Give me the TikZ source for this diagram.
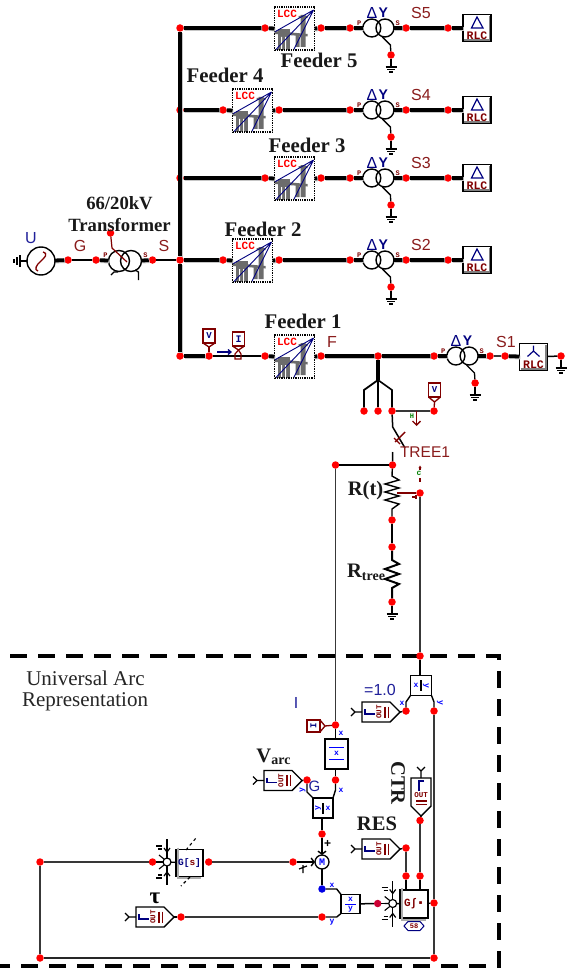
\documentclass[tikz,border=0pt]{standalone}
\usepackage{fontspec}
\setmainfont{Liberation Sans}
\newfontfamily\tnr{Liberation Serif}
\newfontfamily\mon{Liberation Mono}
\usetikzlibrary{arrows.meta,calc}
\definecolor{dred}{HTML}{800000}
\definecolor{lblred}{HTML}{8A1C1C}
\definecolor{navy}{HTML}{000080}
\definecolor{lblblue}{HTML}{20209A}
\definecolor{wgray}{HTML}{383838}
\newcommand\fs[1]{\fontsize{#1}{#1}\selectfont}
\tikzset{
 x=1pt,y=-1pt,
 every node/.style={inner sep=0pt,outer sep=0pt},
 dot/.style={circle,fill=red,minimum size=7.5pt},
 bdot/.style={circle,fill=blue!90!black,minimum size=7.5pt},
 pdot/.style={circle,fill=red!80!blue,minimum size=7.5pt},
 bus/.style={line width=3.8pt,preaction={draw=gray!45,line width=3.8pt,transform canvas={shift={(0.8pt,-1pt)}}}},
 med/.style={line width=2.4pt},
 thin wire/.style={line width=1.5pt},
 gwire/.style={line width=1.6pt,draw=wgray},
 feeder label/.style={font=\tnr\bfseries\fs{20.8},text=black!90},
 big label/.style={font=\tnr\bfseries\fs{20.6},text=black!90},
 name label/.style={font=\fs{16},text=lblred},
 blk/.style={draw,line width=1.4pt,fill=white,rectangle},
 tiny blue/.style={font=\mon\bfseries\fs{8},text=blue},
 tiny red/.style={font=\mon\bfseries\fs{7},text=dred},
}
% LCC block
\newcommand\lcc[3]{%
\begin{scope}[shift={(#2-20,#3-21)}]
 \fill[gray!85!black] (3,22) rectangle (15,43);
 \fill[white] (6.5,30) rectangle (7.5,43) (10.5,30) rectangle (11.5,43);
 \fill[gray!85!black] (0,24) -- (33,27) -- (33,29.5) -- (0,27) -- cycle;
 \fill[gray!85!black] (21,27) rectangle (25,40) (26,8) rectangle (31,40) (24,9) rectangle (33,11);
 \draw[navy,line width=0.9pt] (39,3) -- (0,25) (39,3) -- (1,43) (39,3) -- (19,43);
 \node[draw,densely dotted,line width=1.3pt,minimum width=40pt,minimum height=43pt] (#1) at (20,21.5) {};
 \node[font=\mon\bfseries\fs{11},text=red] at (12.5,7) {LCC};
\end{scope}}
% ground symbol hanging under a dot
\newcommand\gnd[1]{%
 \draw[line width=1.3pt] (#1) -- ++(0,12);
 \draw[line width=1.1pt] ($(#1)+(-5.5,12)$) -- ++(11,0) ($(#1)+(-4,14.5)$) -- ++(8,0) ($(#1)+(-2,17)$) -- ++(4,0);}
% distribution transformer
\newcommand\xfmr[3]{%
 \node[circle,draw,line width=1.4pt,minimum size=18pt] (#1l) at (#2-6.6,#3) {};
 \node[circle,draw,line width=1.4pt,minimum size=18pt] (#1r) at (#2+6.6,#3) {};
 \node[dot] (#1g) at (#2+12.6,#3+27) {};
 \draw[line width=1.3pt] (#2+4,#3+9) -- (#2+12,#3+17) -- (#1g);
 \gnd{#1g}
 \node[font=\fs{16},text=navy] at (#2-6.5,#3-15) {Δ};
 \node[font=\bfseries\fs{14},text=navy] at (#2+5,#3-15) {Y};
 \node[tiny red] at (#2-19.3,#3-5) {P};
 \node[tiny red] at (#2+19.3,#3-5) {S};}
% load block
\newcommand\rlcbox[3]{%
 \node[draw,line width=1.5pt,fill=white,minimum width=28pt,minimum height=27pt] (#1) at (#2,#3) {};
 \draw[gray,line width=1.3pt] ($(#1.south west)+(1.4,-1.4)$) -- ($(#1.south east)+(-1.4,-1.4)$) -- ($(#1.north east)+(-1.4,1.4)$);
 \node[font=\mon\bfseries\fs{11.5},text=dred] at (#2,#3+8) {RLC};}
\newcommand\feederrow[5]{%
 \node[dot] (#1a) at (180,#2) {};
 \node[dot] (#1b) at (#3-29.5,#2) {};
 \node[dot] (#1c) at (#3+26.5,#2) {};
 \node[dot] (#1d) at (350,#2) {};
 \node[dot] (#1e) at (406,#2) {};
 \node[dot] (#1f) at (448,#2) {};
 \lcc{#1l}{#3}{#2}
 \xfmr{#1t}{378.4}{#2}
 \rlcbox{#1r}{477}{#2}
 \draw[navy,line width=1.2pt] (471.5,#2) -- (477,#2-11) -- (483,#2) -- cycle;
 \draw[bus] (#1a) -- (#1b) -- (#1l.west) (#1l.east) -- (#1c) -- (#1d) -- (#1tl) (#1tr) -- (#1e) -- (#1f) -- (#1r);
 \node[name label] at (421,#2-15) {#5};}
% output block: fork, pentagon, icon
\newcommand\outb[4]{%
\begin{scope}[shift={(#2,#3)},rotate=#4]
 \draw[line width=1.4pt,fill=white] (0,-10) -- (28,-10) -- (38,0) -- (28,10) -- (0,10) -- cycle;
 \coordinate (#1) at (38,0);
 \coordinate (#1in) at (0,0);
 \draw[line width=1.3pt] (0,0) -- (-7,0) (-7,0) -- (-11,-4) (-7,0) -- (-11,4);
 \draw[navy,line width=1.2pt] (3,-3) -- (3,2) -- (13,2);
 \node[font=\mon\bfseries\fs{7.5},text=dred,rotate=90+#4] at (17,0) {OUT};
 \draw[dred,line width=1.3pt] (23,-5.5) -- (23,5.5) (26.5,-5.5) -- (26.5,5.5);
\end{scope}}
% summing junction
\newcommand\sumj[3]{%
 \node[circle,draw,line width=1.2pt,fill=white,minimum size=8pt] (#1) at (#2,#3) {};
 \draw[line width=1.3pt] (#1.north) -- ++(0,-19) (#1.south) -- ++(0,19);
 \draw[line width=1.2pt] (#2-3,#3-14) -- (#2,#3-10) -- (#2+3,#3-14) (#2-3,#3+14) -- (#2,#3+10) -- (#2+3,#3+14);
 \draw[line width=1.1pt] (#2-4,#3) -- ++(-4,0) (#2-3,#3-3) -- (#2-8,#3-7) (#2-3,#3+3) -- (#2-8,#3+7);
 \draw[line width=1.3pt] (#2-11,#3-16) -- (#2-5,#3-16) (#2-9,#3-13) -- ++(4,0) (#2-11,#3+16) -- (#2-5,#3+16) (#2-9,#3+13) -- ++(4,0);}
% box with shaded frame
\newcommand\shbox[5]{%
 \node[draw=black,line width=1.6pt,fill=white,minimum width=#4,minimum height=#4] (#1) at (#2,#3) {};
 \draw[gray!65,line width=2pt] ($(#1.north west)+(1.8,-1.8)$) -- ($(#1.south west)+(1.8,1.8)$) -- ($(#1.south east)+(-1.8,1.8)$);
 \node at (#2,#3) {#5};}
\begin{document}
\begin{tikzpicture}
\useasboundingbox (0,0) rectangle (569,971);
\fill[white] (0,0) rectangle (569,971);
% ---------- dashed frame
\coordinate (fa) at (10,656);
\coordinate (fb) at (499,656);
\coordinate (fc) at (499,966);
\coordinate (fd) at (0,966);
\draw[line width=3.8pt,dash pattern=on 17pt off 11pt] (fa) -- (fb) -- (fc) -- (fd);
% ---------- feeders
\feederrow{e}{28}{294.5}{}{S5}
\feederrow{d}{110}{252.5}{}{S4}
\feederrow{c}{178}{294.5}{}{S3}
\feederrow{b}{260}{252.5}{}{S2}
% ---------- source
\node[circle,draw,line width=1.4pt,minimum size=28pt] (src) at (41,261) {};
\draw[dred,line width=1.3pt] (43,252) .. controls (49,254) and (44,258) .. (41,261) .. controls (36,265) and (34,270) .. (38,271);
\coordinate (srcg) at (21,261);
\draw[line width=1.4pt] (src) -- (srcg);
\draw[line width=1.3pt] (20,255) -- (20,267) (17,257) -- (17,265) (14,259) -- (14,263);
\node[dot] (g1) at (68,260) {};
\node[dot] (g2) at (96,260) {};
\node[circle,draw,line width=1.4pt,minimum size=21pt] (hvl) at (119,261) {};
\node[circle,draw,line width=1.4pt,minimum size=21pt] (hvr) at (131,261) {};
\node[dot] (hvtap) at (110.5,233) {};
\node[dot] (s1) at (152.5,260) {};
\draw[dred,line width=1.2pt] (hvtap) -- (112,248) -- (127,262);
\draw[line width=1.3pt] (111,275) -- (114,272) -- (118,272) (138.5,280) -- (138.5,272) -- (135,270);
\node[tiny red] at (105.5,255.5) {P};
\node[tiny red] at (145.5,255.5) {S};
\draw[bus] (src) -- (g1);
\draw[med] (g1) -- (g2);
\draw[bus] (g2) -- (hvl);
\draw[bus] (hvr) -- (s1);
\draw[med] (s1) -- (ba);
\node[font=\fs{16},text=lblblue] at (31,238) {U};
\node[name label] at (80,246) {G};
\node[name label] at (164,246) {S};
\node[font=\tnr\bfseries\fs{18.7},text=black!90] at (119.5,203) {66/20kV};
\node[font=\tnr\bfseries\fs{18.7},text=black!90] at (119.5,225.5) {Transformer};
% ---------- feeder 1
\node[dot] (aa) at (180,356) {};
\node[dot] (ab) at (209,356) {};
\node[dot] (ac) at (265,356) {};
\lcc{al}{294.5}{356}
\node[dot] (ad) at (321,356) {};
\node[dot] (ae) at (378,356) {};
\node[dot] (af) at (434,356) {};
\xfmr{at}{462.5}{356}
\node[dot] (ag) at (490,356) {};
\node[dot] (ah) at (505,356) {};
\rlcbox{ar}{533.5}{357}
\node[dot] (ai) at (561,356) {};
\gnd{ai}
\draw[navy,line width=1.2pt] (533.5,351) -- (533.5,345.5) (533.5,351) -- (527.5,356.5) (533.5,351) -- (539.5,356.5);
\draw[bus] (ba) -- (aa) (ea) -- (ba);
\draw[bus] (aa) -- (ab);
\draw[line width=1.8pt] (ab) -- (ac);
\draw[bus] (ac) -- (al.west);
\draw[bus] (al.east) -- (ad) -- (ae) -- (af) -- (atl);
\draw[bus] (atr) -- (ag);
\draw[med,draw=wgray] (ag) -- (ah);
\draw[bus] (ah) -- (ar);
\draw[thin wire] (ar) -- (ai);
\node[name label] at (332,342) {F};
\node[name label] at (506,342) {S1};
% probes on feeder 1
\node[draw=dred,line width=1.3pt,fill=white,minimum width=12pt,minimum height=14pt,font=\mon\bfseries\fs{9},text=navy] (pv) at (209,336) {V};
\draw[dred,line width=1.3pt] (pv.south west) -- (209,347) -- (pv.south east);
\draw[dred,line width=1.3pt] (209,347) -- (ab);
\node[draw=dred,line width=1.3pt,fill=white,minimum width=12pt,minimum height=14pt,font=\mon\bfseries\fs{10},text=navy] (pi) at (238.5,339) {I};
\draw[dred,line width=1.3pt] (pi.south west) -- (238.5,350) -- (pi.south east);
\draw[dred,line width=1.2pt] (238.5,350) -- (235,354) -- (235,359) -- (241,359) -- (241,354) -- cycle;
\coordinate (arra) at (217,352);
\coordinate (arrb) at (232,352);
\draw[navy,line width=1.3pt,-{Straight Barb[length=3pt,width=5pt]}] (arra) -- (arrb);
% ---------- tree branch
\node[dot] (t1) at (364,411) {};
\node[dot] (t2) at (378,411) {};
\node[dot] (t3) at (392,411) {};
\node[dot] (t4) at (434,411) {};
\draw[line width=4.5pt] (ae) -- (378,380);
\draw[line width=1.8pt] (378,380) -- (364,390) -- (t1);
\draw[line width=1.1pt] (378,380) -- (t2);
\draw[line width=1.6pt] (378,380) -- (392,390) -- (t3);
\draw[gwire] (t3) -- (t4);
\node[draw=dred,line width=1.3pt,fill=white,minimum width=12pt,minimum height=14pt,font=\mon\bfseries\fs{9},text=navy] (pv2) at (434.5,390) {V};
\draw[dred,line width=1.3pt] (pv2.south west) -- (434.5,402) -- (pv2.south east);
\draw[dred,line width=1.3pt] (434.5,402) -- (t4);
\coordinate (ia) at (416.5,411);
\coordinate (ib) at (416.5,426);
\draw[dred,line width=1.3pt,-{Straight Barb[length=4pt,width=8pt]}] (ia) -- (ib);
\node[font=\mon\bfseries\fs{7},text=green!50!black] at (412,416) {H};
% switch
\node[dot] (rt1) at (392.5,465) {};
\node[dot] (rl) at (335.5,465) {};
\draw[line width=1.5pt] (t3) -- (392.7,427) -- (405,448);
\draw[dred,line width=1.4pt] (405,432) -- (395,442);
\draw[dred,line width=1.4pt] (394,438) -- (400,444);
\draw[line width=1.5pt] (392.7,452) -- (rt1);
\draw[line width=1.1pt] (rl) -- (rt1);
\node[font=\fs{15.5},text=lblred] at (425,452) {TREE1};
% R(t)
\node[dot] (rt2) at (392,520) {};
\node[dot] (rt3) at (392,547) {};
\node[dot] (rt4) at (392,602) {};
\node[dot] (rw) at (420,493) {};
\draw[line width=1.4pt] (rt1) -- (392,476) -- (399,480) -- (385,484) -- (399,488) -- (385,492) -- (399,496) -- (385,500) -- (399,504) -- (392,509) -- (rt2);
\draw[line width=1.4pt] (rt2) -- (rt3);
\draw[line width=2pt] (rt3) -- (392,560) -- (399,564) -- (385,569) -- (399,574) -- (385,579) -- (399,584) -- (392,588) -- (rt4);
\gnd{rt4}
\draw[dred,line width=1.4pt] (397,493) -- (rw);
\draw[dred,line width=1.2pt] (412,497) -- (416,497) (416,495) -- (416,499);
\draw[dred,line width=1.2pt] (420,467) -- (420,470) (420,478) -- (420,482);
\fill[dred] (418.5,468) -- (421.5,468) -- (420,465.5) -- cycle;
\node[font=\mon\bfseries\fs{8},text=green!50!black] at (419,473.5) {c};
\node[big label] at (365.5,491) {R(t)};
\node[big label,anchor=east] (rtlab) at (385,572) {R\raisebox{-3pt}{\fs{14}tree}};
% ---------- feeder labels
\node[feeder label] at (319,60) {Feeder 5};
\node[feeder label] at (225,75) {Feeder 4};
\node[feeder label] at (307,145) {Feeder 3};
\node[feeder label] at (263,229) {Feeder 2};
\node[feeder label] at (303,321) {Feeder 1};
\node[font=\tnr\fs{21},text=black!85] at (85.5,678) {Universal Arc};
\node[font=\tnr\fs{21},text=black!85] at (85,702) {Representation};
% ---------- arc model
\node[dot] (fr) at (420,656) {};
\draw[gwire] (rw) -- (fr);
\node[blk,minimum width=21pt,minimum height=20pt] (xy) at (421,685.5) {};
\draw[line width=1.2pt] (421,680) -- (421,691);
\node[tiny blue] at (416,685.5) {x};
\node[tiny blue,rotate=-90] at (426,685.5) {y};
\draw[line width=1.4pt] (fr) -- (xy.north -| fr);
\node[dot] (d1) at (406,711) {};
\node[dot] (d2) at (434,711) {};
\draw[line width=1.4pt] (xy.south west) -- (406,702) -- (d1);
\draw[line width=1.4pt] (xy.south east) -- (434,702) -- (d2);
\node[tiny blue] at (402,703) {x};
\node[tiny blue,rotate=-90] at (440,703) {y};
\node[font=\fs{16},text=lblblue] at (380,690) {=1.0};
\outb{ou1}{362}{712}{0}
\draw[line width=1.4pt] (ou1) -- (d1);
% current path
\node[dot] (d3) at (335.5,725) {};
\draw[gwire] (rl) -- (d3);
\node[draw=dred,line width=1.3pt,fill=white,minimum width=13pt,minimum height=12pt,font=\mon\bfseries\fs{9},text=navy] (pt) at (313.5,726) {\rotatebox{90}{I}};
\draw[dred,line width=1.3pt] (pt.north east) -- (325,726) -- (pt.south east);
\draw[dred,line width=1.3pt] (325,726) -- (d3);
\node[font=\fs{16},text=lblblue] at (296,703) {I};
\node[blk,minimum width=23pt,minimum height=30pt] (inv) at (336.5,754) {};
\draw[line width=1.5pt] (d3) -- (inv.north -| d3);
\draw[blue,line width=1pt] (329,747) -- (344,747) (329,759.5) -- (344,759.5);
\node[tiny blue] at (336.5,753) {x};
\node[tiny blue] at (341,733) {x};
\node[dot] (d4) at (335.5,780) {};
\draw[line width=1.5pt] (inv.south -| d4) -- (d4);
\node[blk,minimum width=20pt,minimum height=20pt] (yx) at (323,808) {};
\draw[line width=1.2pt] (323,803) -- (323,814);
\node[tiny blue,rotate=90] at (318,808) {y};
\node[tiny blue] at (328,808) {x};
\draw[line width=1.4pt] (d4) -- (335.5,790) -- (yx.north east);
\node[tiny blue] at (341,790) {x};
\outb{ou2}{264}{780.5}{0}
\node[dot] (d5) at (307,780) {};
\draw[line width=1.4pt] (ou2) -- (d5);
\draw[line width=1.4pt] (d5) -- (307,792) -- (yx.north west);
\node[tiny blue,rotate=90] at (302.5,790) {y};
\node[text=lblblue,font=\fs{15}] at (314.5,786) {G};
\node[big label] at (273.5,757) {V\raisebox{-2pt}{\fs{14}arc}};
% multiplier
\node[dot] (d6) at (322,834) {};
\draw[line width=1.6pt] (yx.south -| d6) -- (d6);
\node[circle,draw,line width=1.3pt,fill=white,minimum size=14pt,font=\mon\bfseries\fs{10},text=blue] (mm) at (322,862) {M};
\draw[line width=1.4pt,-{Straight Barb[length=3pt,width=8pt]}] (d6) -- (mm);
\node[font=\bfseries\fs{12}] at (327.7,843.5) {+};
\node[dot] (d7) at (293,862) {};
\draw[line width=1.4pt,-{Straight Barb[length=3pt,width=8pt]}] (d7) -- (mm);
\draw[line width=1.2pt] (299,869) -- (307,866) (303,865) -- (303,873);
\node[bdot] (d8) at (322,889) {};
\draw[line width=1.8pt] (mm) -- (d8);
\node[blk,minimum width=19pt,minimum height=19pt] (xoy) at (350.5,904) {};
\draw[line width=1.4pt] (d8) -- (336.7,889) -- (xoy.north west);
\draw[blue,line width=1pt] (345,904) -- (356,904);
\node[tiny blue] at (350.5,899.5) {x};
\node[tiny blue] at (350.5,909) {y};
\node[tiny blue] at (332,885) {x};
\node[tiny blue] at (332,922) {y};
\node[dot] (d9) at (322,917) {};
\draw[line width=1.4pt] (d9) -- (336.7,917) -- (xoy.south west);
\node[pdot] (d10) at (377.7,903.5) {};
\draw[line width=1.5pt] (xoy) -- (d10);
\sumj{sm2}{392.7}{903.5}
\draw[line width=1.3pt] (d10) -- (sm2);
% function block
\shbox{gf}{414}{904}{28pt}{\mon\bfseries\fs{11}\textcolor{dred}{G∫▪}}
\draw[line width=1.4pt] (sm2) -- (gf);
\node[dot] (d11) at (406,876) {};
\node[dot] (d12) at (420,876) {};
\node[dot] (d13) at (406,848) {};
\node[dot] (d14) at (420,820.5) {};
\node[dot] (d15) at (434,903) {};
\draw[line width=1.6pt] (d11) -- (gf.north -| d11);
\draw[line width=1.6pt] (d12) -- (gf.north -| d12);
\draw[gwire] (d13) -- (d11);
\draw[gwire] (d14) -- (d12);
\draw[line width=1.4pt] (gf) -- (d15);
\draw[gwire] (d2) -- (d15);
\draw[navy,line width=1pt] (404,926) -- (408,921.5) -- (420,921.5) -- (424,926) -- (420,930.5) -- (408,930.5) -- cycle;
\node[font=\mon\bfseries\fs{7},text=dred] at (414,926) {58};
\outb{ou3}{362}{849}{0}
\draw[line width=1.4pt] (ou3) -- (d13);
\outb{ou4}{421}{778}{-90}
\draw[line width=1.4pt] (ou4) -- (d14);
\node[big label,rotate=-90] at (398,783) {CTR};
\node[big label] at (377,824) {RES};
% left part
\node[dot] (d16) at (40,862) {};
\node[dot] (d17) at (40,958) {};
\node[dot] (d18) at (434,958) {};
\node[dot] (d19) at (152.5,862) {};
\node[dot] (d20) at (208.7,862) {};
\node[dot] (d21) at (181,917) {};
\sumj{sm1}{167}{862}
\shbox{gs}{189.5}{863}{27pt}{\mon\bfseries\fs{9.5}\textcolor{navy}{G[}\textcolor{dred}{s}\textcolor{navy}{]}}
\draw[line width=1.3pt] (sm1) -- (gs);
\draw[line width=1.3pt] (d19) -- (sm1);
\draw[line width=1.1pt,dashed] (186,850) -- (196,838) (190,877) -- (181,886);
\draw[gwire] (d16) -- (d19);
\draw[gwire] (d20) -- (d7);
\draw[gwire] (d16) -- (d17);
\draw[gwire,draw=black!85] (d17) -- (d18);
\draw[gwire] (d18) -- (d15);
\outb{ou5}{136}{917}{0}
\draw[line width=1.4pt] (ou5) -- (d21);
\draw[gwire] (d21) -- (d9);
\node[font=\tnr\bfseries\fs{23}] at (155,898) {τ};
\end{tikzpicture}
\end{document}
